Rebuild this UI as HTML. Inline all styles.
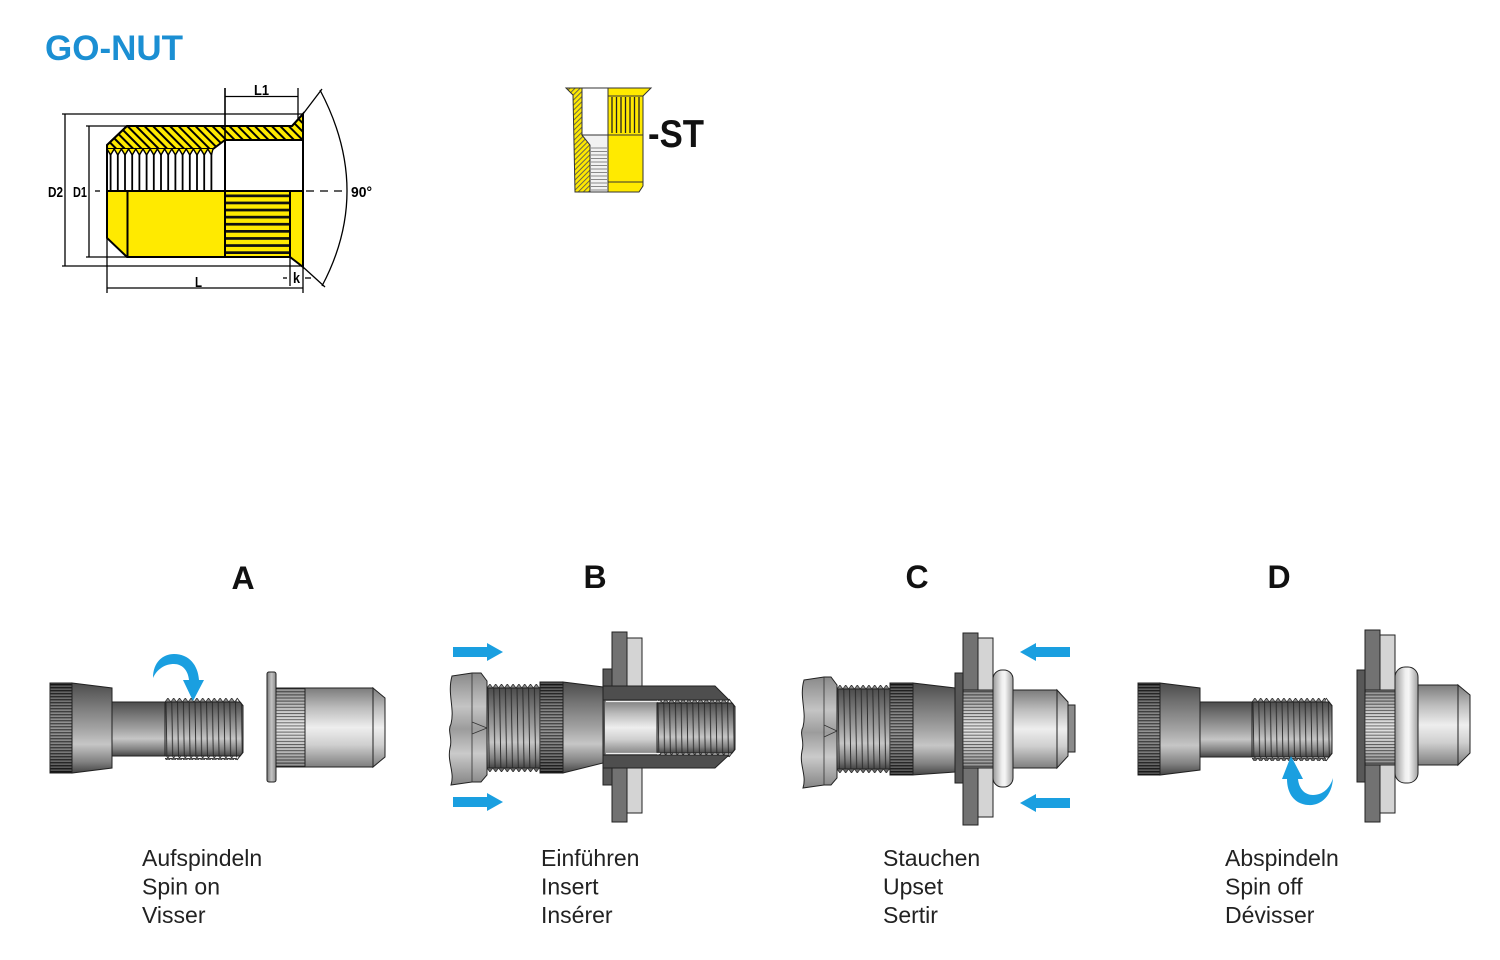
<!DOCTYPE html>
<html><head><meta charset="utf-8"><title>GO-NUT</title>
<style>html,body{margin:0;padding:0;background:#fff;overflow:hidden}svg{display:block}</style>
</head><body>
<svg xmlns="http://www.w3.org/2000/svg" width="1500" height="960" viewBox="0 0 1500 960">
<defs>
<linearGradient id="gB" x1="0" y1="0" x2="0" y2="1"><stop offset="0" stop-color="#4c4c4c"/><stop offset=".18" stop-color="#6c6c6c"/><stop offset=".5" stop-color="#a2a2a2"/><stop offset=".68" stop-color="#c6c6c6"/><stop offset=".88" stop-color="#808080"/><stop offset="1" stop-color="#454545"/></linearGradient>
<linearGradient id="gN" x1="0" y1="0" x2="0" y2="1"><stop offset="0" stop-color="#7c7c7c"/><stop offset=".25" stop-color="#bcbcbc"/><stop offset=".5" stop-color="#eeeeee"/><stop offset=".72" stop-color="#cfcfcf"/><stop offset="1" stop-color="#7e7e7e"/></linearGradient>
<linearGradient id="gF" x1="0" y1="0" x2="1" y2="0"><stop offset="0" stop-color="#777"/><stop offset=".5" stop-color="#c4c4c4"/><stop offset="1" stop-color="#888"/></linearGradient>
<linearGradient id="gU" x1="0" y1="0" x2="1" y2="0"><stop offset="0" stop-color="#9a9a9a"/><stop offset=".45" stop-color="#f0f0f0"/><stop offset=".6" stop-color="#f6f6f6"/><stop offset="1" stop-color="#a0a0a0"/></linearGradient>
<linearGradient id="gH" x1="0" y1="0" x2="0" y2="1"><stop offset="0" stop-color="#8a8a8a"/><stop offset=".3" stop-color="#c4c4c4"/><stop offset=".5" stop-color="#9c9c9c"/><stop offset=".72" stop-color="#cacaca"/><stop offset="1" stop-color="#858585"/></linearGradient>
<linearGradient id="gS" x1="0" y1="0" x2="0" y2="1"><stop offset="0" stop-color="#000" stop-opacity=".35"/><stop offset=".5" stop-color="#fff" stop-opacity=".2"/><stop offset="1" stop-color="#000" stop-opacity=".35"/></linearGradient>
<pattern id="kd" width="10" height="3" patternUnits="userSpaceOnUse"><rect width="10" height="3" fill="#7a7a7a"/><rect width="10" height="1.4" fill="#1c1c1c"/></pattern>
<pattern id="kl" width="10" height="3.1" patternUnits="userSpaceOnUse"><rect width="10" height="3.1" fill="#dadada"/><rect width="10" height="1" fill="#454545"/></pattern>
<pattern id="th" width="5.8" height="100" patternUnits="userSpaceOnUse"><line x1="1" y1="0" x2="2.6" y2="100" stroke="#262626" stroke-width=".9"/></pattern>
<pattern id="tT" width="5.8" height="4" patternUnits="userSpaceOnUse"><path d="M0 4L2.9 0L5.8 4Z" fill="#8c8c8c" stroke="#222" stroke-width=".7"/></pattern>
<pattern id="tB" width="5.8" height="4" patternUnits="userSpaceOnUse"><path d="M0 0L2.9 4L5.8 0Z" fill="#6c6c6c" stroke="#222" stroke-width=".7"/></pattern>
<pattern id="hat" width="6" height="10" patternUnits="userSpaceOnUse" patternTransform="rotate(-45)"><rect width="6" height="10" fill="#ffea00"/><line x1="1" y1="0" x2="1" y2="10" stroke="#000" stroke-width="2"/></pattern>
<pattern id="hat2" width="3.6" height="10" patternUnits="userSpaceOnUse" patternTransform="rotate(45)"><rect width="3.6" height="10" fill="#ffea00"/><line x1="1" y1="0" x2="1" y2="10" stroke="#555" stroke-width=".9"/></pattern>
</defs>

<!-- Title -->
<text x="45" y="60" font-family="Liberation Sans, Arial, sans-serif" font-weight="bold" font-size="35" fill="#1b8fd3">GO-NUT</text>

<!-- Technical drawing -->
<g stroke="#000" stroke-width="2">
  <polygon points="107,191 303,191 303,267 290,257 127,257 107,238" fill="#ffea00" stroke="none"/>
  <g fill="#111" stroke="none">
    <rect x="225" y="194.5" width="65" height="2.7"/>
    <rect x="225" y="201.6" width="65" height="2.7"/>
    <rect x="225" y="208.7" width="65" height="2.7"/>
    <rect x="225" y="215.8" width="65" height="2.7"/>
    <rect x="225" y="222.9" width="65" height="2.7"/>
    <rect x="225" y="230" width="65" height="2.7"/>
    <rect x="225" y="237.1" width="65" height="2.7"/>
    <rect x="225" y="244.2" width="65" height="2.7"/>
    <rect x="225" y="251.3" width="65" height="2.7"/>
  </g>
  <rect x="107" y="146" width="118" height="45" fill="#fff" stroke="none"/>
  <g stroke-width="1.8">
    <line x1="110.6" y1="153" x2="110.6" y2="191"/>
    <line x1="117.8" y1="153" x2="117.8" y2="191"/>
    <line x1="125" y1="153" x2="125" y2="191"/>
    <line x1="132.2" y1="153" x2="132.2" y2="191"/>
    <line x1="139.4" y1="153" x2="139.4" y2="191"/>
    <line x1="146.6" y1="153" x2="146.6" y2="191"/>
    <line x1="153.8" y1="153" x2="153.8" y2="191"/>
    <line x1="161" y1="153" x2="161" y2="191"/>
    <line x1="168.2" y1="153" x2="168.2" y2="191"/>
    <line x1="175.4" y1="153" x2="175.4" y2="191"/>
    <line x1="182.6" y1="153" x2="182.6" y2="191"/>
    <line x1="189.8" y1="153" x2="189.8" y2="191"/>
    <line x1="197" y1="153" x2="197" y2="191"/>
    <line x1="204.2" y1="153" x2="204.2" y2="191"/>
    <line x1="211.4" y1="153" x2="211.4" y2="191"/>
  </g>
  <polygon points="127,126 292,126 303,114 303,140 225,140 213,149 107,149 107,145" fill="url(#hat)"/>
  <polyline points="107,149 110.6,155 114.2,149 117.8,155 121.4,149 125,155 128.6,149 132.2,155 135.8,149 139.4,155 143,149 146.6,155 150.2,149 153.8,155 157.4,149 161,155 164.6,149 168.2,155 171.8,149 175.4,155 179,149 182.6,155 186.2,149 189.8,155 193.4,149 197,155 200.6,149 204.2,155 207.8,149 211.4,155 213,149" fill="#ffea00" stroke-width="1.4"/>
  <rect x="225" y="140" width="78" height="51" fill="#fff"/>
  <polygon points="127,126 292,126 303,114 303,267 290,257 127,257 107,238 107,145" fill="none"/>
  <line x1="107" y1="191" x2="303" y2="191"/>
  <line x1="127.5" y1="191" x2="127.5" y2="257"/>
  <line x1="225" y1="140" x2="225" y2="257"/>
  <line x1="290" y1="191" x2="290" y2="257"/>
</g>
<!-- dimensions -->
<g stroke="#000" stroke-width="1.3" fill="none">
  <line x1="62" y1="114" x2="303" y2="114"/>
  <line x1="62" y1="266" x2="303" y2="266"/>
  <line x1="65" y1="114" x2="65" y2="266"/>
  <line x1="86" y1="126" x2="127" y2="126"/>
  <line x1="86" y1="257" x2="127" y2="257"/>
  <line x1="89" y1="126" x2="89" y2="257"/>
  <line x1="95" y1="191" x2="100" y2="191"/>
  <line x1="306" y1="191" x2="346" y2="191" stroke-dasharray="8 6"/>
  <line x1="225" y1="88" x2="225" y2="140" stroke-width="1.6"/>
  <line x1="298" y1="88" x2="298" y2="119"/>
  <line x1="225" y1="96.5" x2="298" y2="96.5"/>
  <line x1="107" y1="238" x2="107" y2="293"/>
  <line x1="303" y1="267" x2="303" y2="293"/>
  <line x1="107" y1="288" x2="303" y2="288"/>
  <line x1="290" y1="257" x2="290" y2="286"/>
  <line x1="283" y1="278" x2="287" y2="278"/>
  <line x1="305" y1="278" x2="311" y2="278"/>
  <line x1="303" y1="114" x2="322" y2="89"/>
  <line x1="303" y1="267" x2="325" y2="287"/>
  <path d="M320 90 Q373 190 322 286"/>
</g>
<g font-family="Liberation Sans Narrow, Liberation Sans, Arial, sans-serif" font-weight="bold" font-size="15" fill="#000">
  <text x="254" y="95" textLength="15" lengthAdjust="spacingAndGlyphs">L1</text>
  <text x="48" y="197" textLength="15" lengthAdjust="spacingAndGlyphs">D2</text>
  <text x="73" y="197" textLength="14" lengthAdjust="spacingAndGlyphs">D1</text>
  <text x="195" y="287" textLength="7" lengthAdjust="spacingAndGlyphs">L</text>
  <text x="293" y="283" textLength="7" lengthAdjust="spacingAndGlyphs">k</text>
  <text x="351" y="197" textLength="21" lengthAdjust="spacingAndGlyphs">90°</text>
</g>

<!-- -ST icon -->
<g stroke="#333" stroke-width="1">
  <polygon points="566,88 582,88 582,135 590,145 590,192 575,192 573,95" fill="url(#hat2)"/>
  <rect x="582" y="88" width="26" height="47" fill="#fff"/>
  <polygon points="582,135 608,135 608,192 590,192 590,145" fill="#f2f2f2"/>
  <g stroke="#8a8a8a" stroke-width="1">
    <line x1="591" y1="148" x2="607" y2="148"/><line x1="591" y1="151.5" x2="607" y2="151.5"/>
    <line x1="591" y1="155" x2="607" y2="155"/><line x1="591" y1="158.5" x2="607" y2="158.5"/>
    <line x1="591" y1="162" x2="607" y2="162"/><line x1="591" y1="165.5" x2="607" y2="165.5"/>
    <line x1="591" y1="169" x2="607" y2="169"/><line x1="591" y1="172.5" x2="607" y2="172.5"/>
    <line x1="591" y1="176" x2="607" y2="176"/><line x1="591" y1="179.5" x2="607" y2="179.5"/>
    <line x1="591" y1="183" x2="607" y2="183"/><line x1="591" y1="186.5" x2="607" y2="186.5"/>
    <line x1="591" y1="190" x2="607" y2="190"/>
  </g>
  <polygon points="608,88 651,88 643,96 643,186 639,192 608,192" fill="#ffea00"/>
  <g stroke="#222" stroke-width="1.3">
    <line x1="612" y1="97" x2="612" y2="133"/><line x1="616.5" y1="97" x2="616.5" y2="133"/>
    <line x1="621" y1="97" x2="621" y2="133"/><line x1="625.5" y1="97" x2="625.5" y2="133"/>
    <line x1="630" y1="97" x2="630" y2="133"/><line x1="634.5" y1="97" x2="634.5" y2="133"/>
    <line x1="639" y1="97" x2="639" y2="133"/>
  </g>
  <line x1="608" y1="96" x2="643" y2="96"/>
  <line x1="608" y1="135" x2="643" y2="135"/>
  <line x1="608" y1="182" x2="643" y2="182"/>
</g>
<text x="648" y="147" font-family="Liberation Sans, Arial, sans-serif" font-weight="bold" font-size="39" fill="#111" textLength="56" lengthAdjust="spacingAndGlyphs">-ST</text>

<!-- Step letters -->
<g font-family="Liberation Sans, Arial, sans-serif" font-weight="bold" font-size="32" fill="#111" text-anchor="middle">
  <text x="243" y="589">A</text>
  <text x="595" y="588">B</text>
  <text x="917" y="588">C</text>
  <text x="1279" y="588">D</text>
</g>

<!-- ===== Figure A ===== -->
<g stroke="#222" stroke-width="1">
  <rect x="50" y="683" width="22" height="90" fill="url(#kd)"/>
  <rect x="50" y="683" width="22" height="90" fill="url(#gS)" stroke="none"/>
  <polygon points="72,683 112,688 112,768 72,773" fill="url(#gB)"/>
  <rect x="112" y="702" width="53" height="54" fill="url(#gB)"/>
  <g transform="translate(165,702)">
    <rect y="-4" width="72" height="4" fill="url(#tT)" stroke="none"/>
    <rect width="78" height="54" fill="url(#gB)"/>
    <rect width="78" height="54" fill="url(#th)" stroke="none"/>
    <rect y="54" width="72" height="4" fill="url(#tB)" stroke="none"/>
    <polygon points="72,-5 79,4 79,50 72,59 84,59 84,-5" fill="#fff" stroke="none"/>
    <polyline points="72,-4 78,4 78,50 72,58" fill="none"/>
  </g>
  <path d="M153,678 C153,662 163,654 174,654 C189,654 198,665 199,680 L204,680 L193,701 L183,680 L189,680 C188,670 182,664 174,664 C165,664 157,669 153,678 Z" fill="#1a9fe0" stroke="none"/>
  <rect x="267" y="672" width="9" height="110" rx="2" fill="url(#gF)"/>
  <rect x="276" y="688" width="29" height="79" fill="url(#kl)"/>
  <rect x="276" y="688" width="29" height="79" fill="url(#gS)" stroke="none"/>
  <rect x="305" y="688" width="68" height="79" fill="url(#gN)"/>
  <polygon points="373,688 385,698 385,757 373,767" fill="url(#gN)"/>
</g>

<!-- ===== Figure B ===== -->
<g stroke="#222" stroke-width="1">
  <rect x="453" y="647" width="36" height="10" fill="#1a9fe0" stroke="none"/>
  <polygon points="487,643 503,652 487,661" fill="#1a9fe0" stroke="none"/>
  <rect x="453" y="797" width="36" height="10" fill="#1a9fe0" stroke="none"/>
  <polygon points="487,793 503,802 487,811" fill="#1a9fe0" stroke="none"/>

  <path d="M452,676 L472,673 L481,673 L487,681 L487,775 L481,782 L472,782 L451,785 C455,772 447,762 450,748 C453,738 447,731 451,724 C455,708 447,694 452,676Z" fill="url(#gH)"/>
  <path d="M472,673 V782 M472,722 L487,728 L472,734" fill="none" stroke="#333" stroke-width=".8"/>
  <g transform="translate(487,688)">
    <rect y="-4" width="53" height="4" fill="url(#tT)" stroke="none"/>
    <rect width="53" height="80" fill="url(#gB)"/>
    <rect width="53" height="80" fill="url(#th)" stroke="none"/>
    <rect y="80" width="53" height="4" fill="url(#tB)" stroke="none"/>
  </g>
  <rect x="540" y="682" width="23" height="91" fill="url(#kd)"/>
  <rect x="540" y="682" width="23" height="91" fill="url(#gS)" stroke="none"/>
  <polygon points="563,682 603,687 603,763 563,773" fill="url(#gB)"/>

  <rect x="612" y="632" width="15" height="190" fill="#727272"/>
  <rect x="627" y="638" width="15" height="175" fill="#d4d4d4"/>
  <rect x="603" y="669" width="9" height="116" fill="#585858"/>
  <rect x="605" y="700" width="52" height="55" fill="url(#gN)" stroke="none"/>
  <g transform="translate(657,703)">
    <rect y="-4" width="72" height="4" fill="url(#tT)" stroke="none"/>
    <rect width="78" height="50" fill="url(#gB)"/>
    <rect width="78" height="50" fill="url(#th)" stroke="none"/>
    <rect y="50" width="72" height="4" fill="url(#tB)" stroke="none"/>
    <polygon points="72,-5 79,4 79,46 72,55 84,55 84,-5" fill="#fff" stroke="none"/>
    <polyline points="72,-4 78,4 78,46 72,54" fill="none"/>
  </g>
  <polygon points="603,686 715,686 729,700 603,700" fill="#4e4e4e"/>
  <polygon points="603,755 729,755 715,768 603,768" fill="#4e4e4e"/>
  <line x1="606" y1="701.5" x2="660" y2="701.5" stroke="#eee" stroke-width="1.2"/>
  <line x1="606" y1="753.5" x2="660" y2="753.5" stroke="#eee" stroke-width="1.2"/>
</g>

<!-- ===== Figure C ===== -->
<g stroke="#222" stroke-width="1">
  <path d="M804,680 L824,677 L831,677 L837,685 L837,778 L831,785 L824,785 L803,788 C807,775 799,765 802,751 C805,741 799,734 803,727 C807,711 799,697 804,680Z" fill="url(#gH)"/>
  <path d="M824,677 V785 M824,725 L837,731 L824,737" fill="none" stroke="#333" stroke-width=".8"/>
  <g transform="translate(837,689)">
    <rect y="-4" width="53" height="4" fill="url(#tT)" stroke="none"/>
    <rect width="53" height="80" fill="url(#gB)"/>
    <rect width="53" height="80" fill="url(#th)" stroke="none"/>
    <rect y="80" width="53" height="4" fill="url(#tB)" stroke="none"/>
  </g>
  <rect x="890" y="683" width="23" height="92" fill="url(#kd)"/>
  <rect x="890" y="683" width="23" height="92" fill="url(#gS)" stroke="none"/>
  <polygon points="913,683 955,688 955,772 913,775" fill="url(#gB)"/>

  <rect x="963" y="633" width="15" height="192" fill="#727272"/>
  <rect x="978" y="638" width="15" height="179" fill="#d4d4d4"/>
  <rect x="955" y="673" width="8" height="110" fill="#585858"/>
  <rect x="963" y="690" width="30" height="78" fill="url(#kl)"/>
  <rect x="963" y="690" width="30" height="78" fill="url(#gS)" stroke="none"/>
  <rect x="1068" y="705" width="7" height="47" fill="#8a8a8a"/>
  <rect x="1013" y="690" width="44" height="78" fill="url(#gN)"/>
  <polygon points="1057,690 1068,702 1068,756 1057,768" fill="url(#gN)"/>
  <rect x="993" y="670" width="20" height="117" rx="9" fill="url(#gU)"/>

  <rect x="1035" y="647" width="35" height="10" fill="#1a9fe0" stroke="none"/>
  <polygon points="1036,643 1020,652 1036,661" fill="#1a9fe0" stroke="none"/>
  <rect x="1035" y="798" width="35" height="10" fill="#1a9fe0" stroke="none"/>
  <polygon points="1036,794 1020,803 1036,812" fill="#1a9fe0" stroke="none"/>
</g>

<!-- ===== Figure D ===== -->
<g stroke="#222" stroke-width="1">
  <rect x="1138" y="683" width="22" height="92" fill="url(#kd)"/>
  <rect x="1138" y="683" width="22" height="92" fill="url(#gS)" stroke="none"/>
  <polygon points="1160,683 1200,688 1200,770 1160,775" fill="url(#gB)"/>
  <rect x="1200" y="702" width="52" height="55" fill="url(#gB)"/>
  <g transform="translate(1252,702)">
    <rect y="-4" width="74" height="4" fill="url(#tT)" stroke="none"/>
    <rect width="80" height="55" fill="url(#gB)"/>
    <rect width="80" height="55" fill="url(#th)" stroke="none"/>
    <rect y="55" width="74" height="4" fill="url(#tB)" stroke="none"/>
    <polygon points="74,-5 81,4 81,51 74,60 86,60 86,-5" fill="#fff" stroke="none"/>
    <polyline points="74,-4 80,4 80,51 74,59" fill="none"/>
  </g>
  <path d="M1333,778 C1332,797 1320,806 1308,805 C1294,804 1287,793 1287,779 L1282,779 L1291,756 L1303,779 L1298,779 C1299,789 1305,795 1313,795 C1323,795 1330,788 1333,778 Z" fill="#1a9fe0" stroke="none"/>

  <rect x="1365" y="630" width="15" height="192" fill="#727272"/>
  <rect x="1380" y="635" width="15" height="178" fill="#d4d4d4"/>
  <rect x="1357" y="670" width="8" height="112" fill="#585858"/>
  <rect x="1365" y="690" width="30" height="75" fill="url(#kl)"/>
  <rect x="1365" y="690" width="30" height="75" fill="url(#gS)" stroke="none"/>
  <rect x="1418" y="685" width="40" height="80" fill="url(#gN)"/>
  <polygon points="1458,685 1470,695 1470,753 1458,765" fill="url(#gN)"/>
  <rect x="1395" y="667" width="23" height="116" rx="10" fill="url(#gU)"/>
</g>

<!-- Step captions -->
<g font-family="Liberation Sans, Arial, sans-serif" font-size="23" fill="#222">
  <text x="142" y="866">Aufspindeln</text>
  <text x="142" y="894.5">Spin on</text>
  <text x="142" y="923">Visser</text>
  <text x="541" y="866">Einführen</text>
  <text x="541" y="894.5">Insert</text>
  <text x="541" y="923">Insérer</text>
  <text x="883" y="866">Stauchen</text>
  <text x="883" y="894.5">Upset</text>
  <text x="883" y="923">Sertir</text>
  <text x="1225" y="866">Abspindeln</text>
  <text x="1225" y="894.5">Spin off</text>
  <text x="1225" y="923">Dévisser</text>
</g>
</svg>
</body></html>
